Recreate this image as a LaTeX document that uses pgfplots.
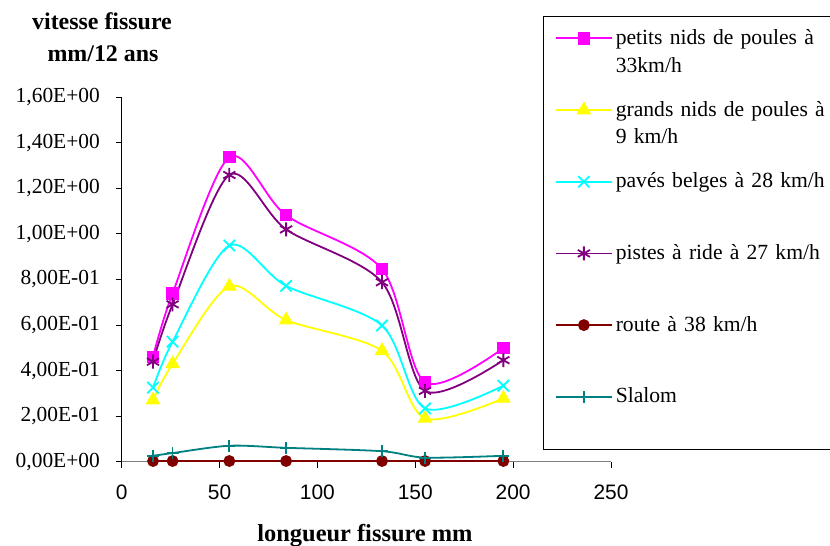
\documentclass[border=0pt]{standalone}
\usepackage{fontspec}
\setmainfont{Liberation Serif}
\newfontfamily\arialfont{Liberation Sans}
\usepackage{pgfplots}
\pgfplotsset{compat=1.18}
\definecolor{cMag}{RGB}{255,0,255}
\definecolor{cYel}{RGB}{255,255,0}
\definecolor{cCya}{RGB}{0,255,255}
\definecolor{cPur}{RGB}{128,0,128}
\definecolor{cRed}{RGB}{128,0,0}
\definecolor{cTea}{RGB}{0,128,128}
\begin{document}
\begin{tikzpicture}
\useasboundingbox (0,0) rectangle (830bp,-546bp);
\begin{axis}[
  at={(121.7bp,-461.7bp)}, anchor=south west,
  scale only axis, width=489.3bp, height=364.4bp,
  xmin=0, xmax=250, ymin=0, ymax=1.6,
  axis x line*=bottom, axis y line*=left,
  axis line style={-},
  x axis line style={gray, line width=1.3bp},
  y axis line style={black, line width=1bp},
  xtick={0,50,100,150,200,250},
  xticklabels={0,50,100,150,200,250},
  ytick={0,0.2,0.4,0.6,0.8,1.0,1.2,1.4,1.6},
  yticklabels={{0,00E+00},{2,00E-01},{4,00E-01},{6,00E-01},{8,00E-01},{1,00E+00},{1,20E+00},{1,40E+00},{1,60E+00}},
  tick align=outside, major tick length=6bp,
  tick style={black, line width=1bp},
  xticklabel style={font=\arialfont\fontsize{21}{24}\selectfont, inner sep=0pt},
  yticklabel style={font=\fontsize{21.5}{24}\selectfont, inner sep=0pt},
  yticklabel shift=15.7bp, xticklabel shift=17.3bp,
  clip=false,
  legend image code/.code={\draw[mark repeat=2,mark phase=2,#1] plot coordinates {(0bp,6bp) (27.5bp,6bp) (55bp,6bp)};},
  legend style={at={(0.8616,1.2231)}, anchor=north west, draw=black, line width=1bp, fill=white,
    inner xsep=11.7bp, inner ysep=1.15bp, row sep=0pt, column sep=3.5bp,
    font=\fontsize{21.7}{27.8}\selectfont,
    nodes={inner sep=0pt, anchor=base west, text width=230bp, align=left, text height=26.65bp, text depth=45.05bp}},
]
\addplot[color=cMag, line width=1.8bp, smooth, mark=square*, mark size=5.3bp, mark options={solid, fill=cMag}]
  coordinates {(16,0.461) (26,0.739) (55,1.337) (84,1.082) (133,0.846) (155,0.348) (195,0.499)};
\addlegendentry{petits nids de poules à\\33km/h}
\addplot[color=cYel, line width=1.8bp, smooth, mark=triangle*, mark size=6.8bp, mark options={solid, fill=cYel}]
  coordinates {(16,0.271) (26,0.430) (55,0.770) (84,0.622) (133,0.487) (155,0.190) (195,0.278)};
\addlegendentry{grands nids de poules à\\9 km/h}
\addplot[color=cCya, line width=1.8bp, smooth, mark=x, mark size=8bp, mark options={solid}]
  coordinates {(16,0.325) (26,0.527) (55,0.949) (84,0.772) (133,0.598) (155,0.234) (195,0.334)};
\addlegendentry{pavés belges à 28 km/h}
\addplot[color=cPur, line width=1.8bp, smooth, mark=asterisk, mark size=7bp, mark options={solid}]
  coordinates {(16,0.439) (26,0.691) (55,1.259) (84,1.020) (133,0.788) (155,0.311) (195,0.446)};
\addlegendentry{pistes à ride à 27 km/h}
\addplot[color=cRed, line width=1.8bp, smooth, mark=*, mark size=5bp, mark options={solid, fill=cRed}]
  coordinates {(16,0.003) (26,0.003) (55,0.003) (84,0.003) (133,0.003) (155,0.003) (195,0.003)};
\addlegendentry{route à 38 km/h}
\addplot[color=cTea, line width=1.8bp, smooth, mark=+, mark size=6bp, mark options={solid}]
  coordinates {(16,0.026) (26,0.038) (55,0.070) (84,0.061) (133,0.046) (155,0.018) (195,0.026)};
\addlegendentry{Slalom}
\end{axis}
\node[anchor=base, font=\fontsize{24}{28}\selectfont\bfseries] at (102bp,-29bp) {vitesse fissure};
\node[anchor=base, font=\fontsize{24}{28}\selectfont\bfseries] at (103bp,-61bp) {mm/12 ans};
\node[anchor=base, font=\fontsize{24.5}{28}\selectfont\bfseries] at (365bp,-541bp) {longueur fissure mm};
\end{tikzpicture}
\end{document}
